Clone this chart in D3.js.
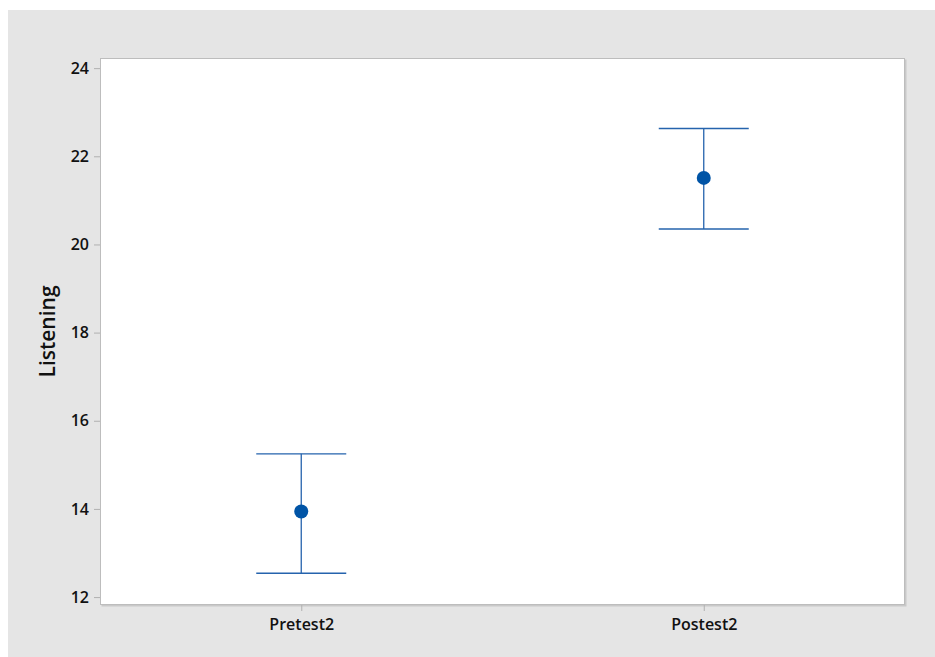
<!DOCTYPE html>
<html>
<head>
<meta charset="utf-8">
<script src="https://cdn.jsdelivr.net/npm/d3@7"></script>
<style>
  body { margin: 0; background: #fff; }
  text { font-family: "Open Sans", "Noto Sans", sans-serif; fill: #111; }
</style>
</head>
<body>
<div id="graf"></div>
<script>
// interval plot values
const groups = ["Pretest2", "Postest2"]
const means = [13.94, 21.51]
const lower = [12.54, 20.35]
const upper = [15.25, 22.63]
const yTicks = [12, 14, 16, 18, 20, 22, 24]
const yLabel = "Listening"

const width = 935
const height = 657
const margin = ({top: 58, right: 30, bottom: 52, left: 100})

const data = groups.map((g, i) => ({group: g, mean: means[i], lo: lower[i], hi: upper[i]}))

const x = d3.scalePoint()
    .domain(groups)
    .range([margin.left, width - margin.right])
    .padding(0.5)

const y = d3.scaleLinear()
    .domain([11.82, 24.23])
    .range([height - margin.bottom, margin.top])

const svg = d3.create("svg")
    .attr("width", width)
    .attr("height", height)
    .attr("viewBox", [0, 0, width, height])

// grey panel
svg.append("rect")
    .attr("x", 8).attr("y", 10)
    .attr("width", width - 8).attr("height", height - 10)
    .attr("fill", "#e5e5e5")

// plot area with a faint shadow on right/bottom
svg.append("rect")
    .attr("x", margin.left + 1.5).attr("y", margin.top + 1.5)
    .attr("width", width - margin.left - margin.right)
    .attr("height", height - margin.top - margin.bottom)
    .attr("fill", "#c9c9c9")

svg.append("rect")
    .attr("x", margin.left + 0.5).attr("y", margin.top + 0.5)
    .attr("width", width - margin.left - margin.right - 1)
    .attr("height", height - margin.top - margin.bottom - 1)
    .attr("fill", "#fff")
    .attr("stroke", "#bdbdbd")

const yAxis = g => g
    .attr("transform", `translate(${margin.left},0)`)
    .call(d3.axisLeft(y).tickValues(yTicks).tickSize(6).tickPadding(5))
    .call(g => g.select(".domain").remove())
    .call(g => g.selectAll(".tick line").attr("stroke", "#b0b0b0"))
    .call(g => g.selectAll(".tick text")
        .attr("font-size", 16).attr("font-weight", 600).attr("fill", "#111")
        .attr("font-family", "'Open Sans', 'Noto Sans', sans-serif"))

const xAxis = g => g
    .attr("transform", `translate(0,${height - margin.bottom})`)
    .call(d3.axisBottom(x).tickSize(6).tickPadding(8))
    .call(g => g.select(".domain").remove())
    .call(g => g.selectAll(".tick line").attr("stroke", "#b0b0b0"))
    .call(g => g.selectAll(".tick text")
        .attr("font-size", 16).attr("font-weight", 600).attr("fill", "#111")
        .attr("font-family", "'Open Sans', 'Noto Sans', sans-serif"))

svg.append("g").call(yAxis)
svg.append("g").call(xAxis)

svg.append("text")
    .attr("transform", `translate(55,${(margin.top + height - margin.bottom) / 2}) rotate(-90)`)
    .attr("text-anchor", "middle")
    .attr("font-size", 21)
    .attr("font-weight", 600)
    .text(yLabel)

const capHalf = 45
const bars = svg.append("g")
    .attr("stroke", "#2563ad")
    .attr("stroke-width", 1.3)
    .attr("fill", "none")
  .selectAll("g")
  .data(data)
  .join("g")

bars.append("line")
    .attr("x1", d => x(d.group)).attr("x2", d => x(d.group))
    .attr("y1", d => y(d.lo)).attr("y2", d => y(d.hi))

bars.append("line")
    .attr("x1", d => x(d.group) - capHalf).attr("x2", d => x(d.group) + capHalf)
    .attr("y1", d => y(d.hi)).attr("y2", d => y(d.hi))

bars.append("line")
    .attr("x1", d => x(d.group) - capHalf).attr("x2", d => x(d.group) + capHalf)
    .attr("y1", d => y(d.lo)).attr("y2", d => y(d.lo))

svg.append("g")
  .selectAll("circle")
  .data(data)
  .join("circle")
    .attr("cx", d => x(d.group))
    .attr("cy", d => y(d.mean))
    .attr("r", 7)
    .attr("fill", "#0054a6")

d3.select("#graf").append(() => svg.node())
</script>
</body>
</html>
